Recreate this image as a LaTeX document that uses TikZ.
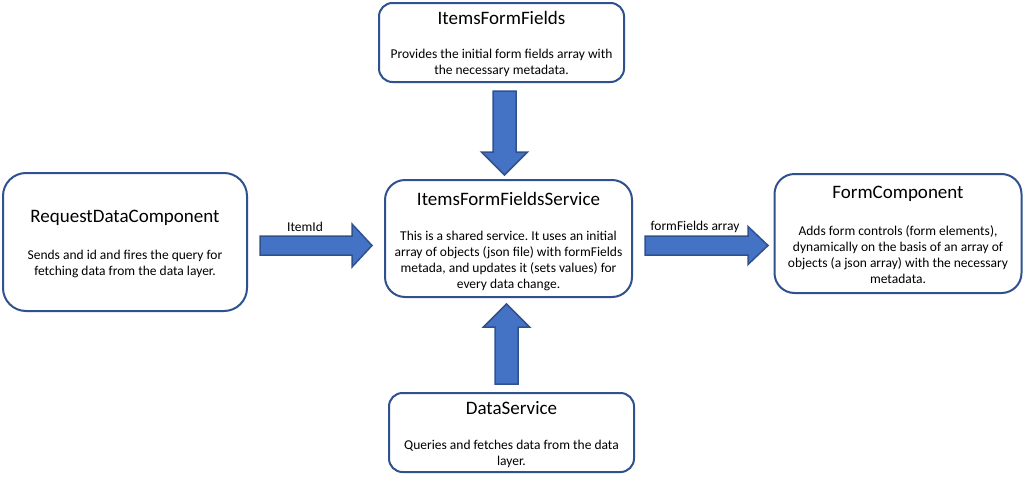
\documentclass[tikz,border=0pt]{standalone}
\usepackage{fontspec}
\setmainfont{Carlito}
\definecolor{boxblue}{HTML}{2F528F}
\definecolor{arrowfill}{HTML}{4472C4}
\frenchspacing
\begin{document}
\begin{tikzpicture}[x=1pt,y=-1pt,
  box/.style={draw=boxblue, line width=2pt, fill=white, inner sep=0pt},
  ttl/.style={font=\fontsize{19}{23}\selectfont, inner sep=0pt},
  body/.style={font=\fontsize{13.5}{16}\selectfont, align=center, inner sep=0pt},
  lbl/.style={font=\fontsize{13.5}{16}\selectfont, inner sep=0pt},
  barrow/.style={draw=boxblue, fill=arrowfill, line width=1.5pt, line join=miter}
]
\useasboundingbox (0,0) rectangle (1024,479);
\fill[white] (0,0) rectangle (1024,479);

% boxes
\node[box, minimum width=245pt, minimum height=79pt, rounded corners=13.5pt] (top) at (501.5,42.5) {};
\node[box, minimum width=244pt, minimum height=138pt, rounded corners=23pt] (left) at (125,242) {};
\node[box, minimum width=247pt, minimum height=117pt, rounded corners=20pt] (mid) at (508.5,238.5) {};
\node[box, minimum width=247pt, minimum height=119pt, rounded corners=20pt] (right) at (898,233.5) {};
\node[box, minimum width=245pt, minimum height=79pt, rounded corners=13.5pt] (bot) at (511.5,432.5) {};

% titles
\node[ttl] (topT) at (501.5,18) {ItemsFormFields};
\node[ttl] (leftT) at (125,218) {RequestDataComponent};
\node[ttl] (midT) at (508.5,199) {ItemsFormFieldsService};
\node[ttl] (rightT) at (898,194) {FormComponent};
\node[ttl] (botT) at (511.5,408) {DataService};

% bodies
\node[body] (topB) at (501.5,62.5) {Provides the initial form fields array with\\the necessary metadata.};
\node[body] (leftB) at (125,263.5) {Sends and id and fires the query for\\fetching data from the data layer.};
\node[body] (midB) at (508.5,261) {This is a shared service. It uses an initial\\array of objects (json file) with formFields\\metada, and updates it (sets values) for\\every data change.};
\node[body] (rightB) at (898,254.5) {Adds form controls (form elements),\\dynamically on the basis of an array of\\objects (a json array) with the necessary\\metadata.};
\node[body] (botB) at (511.5,453.5) {Queries and fetches data from the data\\layer.};

% block arrows
% ItemId (left -> mid)
\draw[barrow] (260,236) -- (352,236) -- (352,224) -- (372,245.5) -- (352,267)
  -- (352,255) -- (260,255) -- cycle;
% formFields array (mid -> right)
\draw[barrow] (645,236) -- (748,236) -- (748,226.5) -- (768,245.5) -- (748,264.5)
  -- (748,255) -- (645,255) -- cycle;
% top -> mid (down)
\draw[barrow] (493,91) -- (516,91) -- (516,152) -- (527.5,152) -- (504.5,175)
  -- (481.5,152) -- (493,152) -- cycle;
% bot -> mid (up)
\draw[barrow] (495,384) -- (518,384) -- (518,327) -- (529.5,327) -- (506.5,304)
  -- (483.5,327) -- (495,327) -- cycle;

% labels
\node[lbl] (l1) at (305,227) {ItemId};
\node[lbl] (l2) at (695,227) {formFields array};
\end{tikzpicture}
\end{document}
